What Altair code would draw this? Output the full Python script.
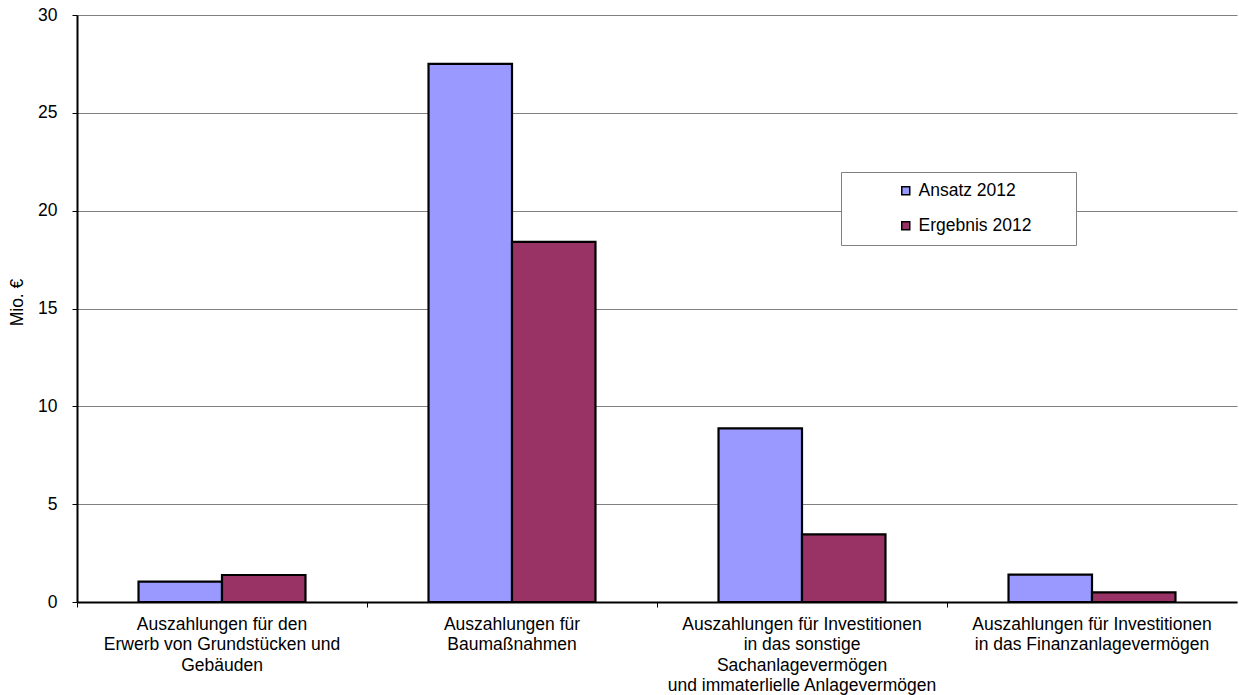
import altair as alt
import pandas as pd

# Investment payments 2012, plan vs. result (million euro)
categories = [
    "Auszahlungen für den|Erwerb von Grundstücken und|Gebäuden",
    "Auszahlungen für|Baumaßnahmen",
    "Auszahlungen für Investitionen|in das sonstige|Sachanlagevermögen|und immaterlielle Anlagevermögen",
    "Auszahlungen für Investitionen|in das Finanzanlagevermögen",
]
series = ["Ansatz 2012", "Ergebnis 2012"]
ansatz = [1.04, 27.5, 8.87, 1.40]
ergebnis = [1.38, 18.41, 3.46, 0.49]
y_ticks = [0, 5, 10, 15, 20, 25, 30]
colors = ["#9999FF", "#993366"]

rows = []
for cat, a, e in zip(categories, ansatz, ergebnis):
    rows.append({"Kategorie": cat, "Reihe": series[0], "Wert": a})
    rows.append({"Kategorie": cat, "Reihe": series[1], "Wert": e})
df = pd.DataFrame(rows)

FONT = "Liberation Sans"
FS = 17.5
PLOT_W, PLOT_H = 1160, 587
# blank room after the legend labels (closed by a zero-width char so it is not trimmed)
LEGEND_GAP = "\u00a0" * 7 + "\u200b"

chart = (
    alt.Chart(df)
    .mark_bar(stroke="black", strokeWidth=2.2)
    .encode(
        x=alt.X(
            "Kategorie:N",
            sort=categories,
            scale=alt.Scale(paddingInner=0, paddingOuter=0),
            axis=alt.Axis(
                title=None,
                labelExpr="split(datum.label, '|')",
                labelAngle=0,
                labelAlign="center",
                labelBaseline="top",
                bandPosition=0,
                labelFontSize=FS,
                labelLineHeight=20.5,
                labelPadding=8,
                labelLimit=400,
                labelOverlap=False,
                labelColor="black",
                tickSize=5,
                tickColor="black",
                tickWidth=1,
                domainColor="black",
                domainWidth=2,
                grid=False,
            ),
        ),
        xOffset=alt.XOffset(
            "Reihe:N",
            sort=series,
            scale=alt.Scale(paddingInner=0, paddingOuter=0.737),
        ),
        y=alt.Y(
            "Wert:Q",
            scale=alt.Scale(domain=[0, 30], nice=False),
            axis=alt.Axis(
                title="Mio. €",
                values=y_ticks,
                titleFontSize=FS,
                titleFontWeight="normal",
                titleColor="black",
                titleX=-60,
                titleY=287,
                titleBaseline="middle",
                labelFontSize=FS,
                labelColor="black",
                labelPadding=15,
                tickSize=5,
                tickColor="black",
                domainColor="black",
                domainWidth=2,
                grid=True,
                gridColor="#808080",
                gridWidth=1,
            ),
        ),
        color=alt.Color(
            "Reihe:N",
            sort=series,
            scale=alt.Scale(domain=series, range=colors),
            legend=alt.Legend(
                title=None,
                orient="none",
                legendX=764,
                legendY=157,
                direction="vertical",
                symbolType="square",
                symbolSize=64,
                symbolStrokeColor="black",
                symbolStrokeWidth=1.5,
                symbolOffset=46,
                labelOffset=4,
                labelFontSize=FS,
                labelColor="black",
                labelExpr=f"datum.label + '{LEGEND_GAP}'",
                rowPadding=16,
                padding=10,
                fillColor="white",
                strokeColor="#808080",
            ),
        ),
    )
    .properties(
        width=PLOT_W,
        height=PLOT_H,
        autosize=alt.AutoSizeParams(type="none"),
        padding={"left": 77, "top": 15, "right": 2, "bottom": 93},
    )
    .configure(font=FONT)
    .configure_view(stroke=None)
)

chart.save("out.html", embed_options={"renderer": "svg", "actions": False})
